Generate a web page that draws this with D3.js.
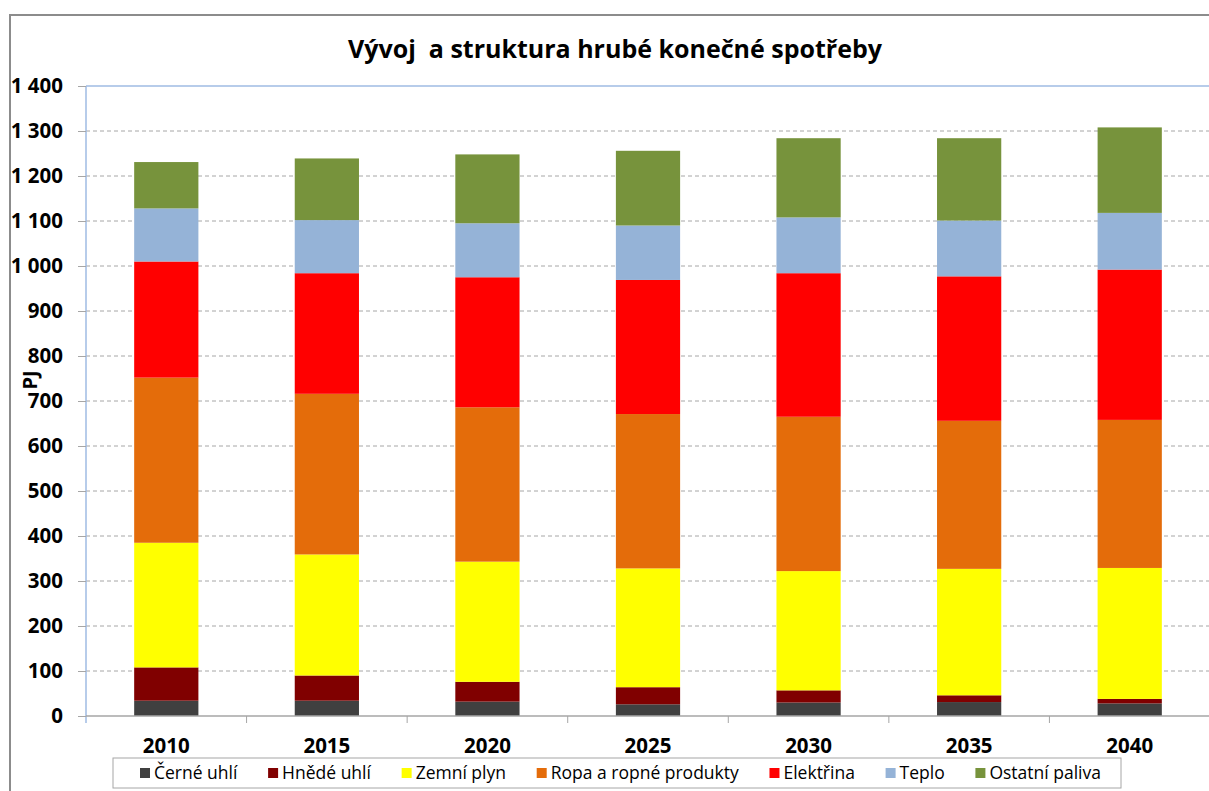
<!DOCTYPE html>
<html lang="cs">
<head>
<meta charset="UTF-8" />
<title>Vývoj a struktura hrubé konečné spotřeby</title>
<script src="https://d3js.org/d3.v7.min.js"></script>
<style>
	body { margin: 0; background: #fff; }
	svg { display: block; font-family: "Open Sans", "Noto Sans", sans-serif; }
	.title { white-space: pre; }
</style>
</head>
<body>
<svg id="chart"></svg>
<script>
const years = ["2010", "2015", "2020", "2025", "2030", "2035", "2040"];
const seriesNames = ["Černé uhlí", "Hnědé uhlí", "Zemní plyn", "Ropa a ropné produkty", "Elektřina", "Teplo", "Ostatní paliva"];
const seriesColors = ["#404040", "#800000", "#ffff00", "#e46c0a", "#ff0000", "#95b3d7", "#77933c"];

// PJ
const cerneUhli = [34, 34, 32, 26, 30, 31, 28];
const hnedeUhli = [74, 56, 44, 38, 27, 15, 10];
const zemniPlyn = [277, 269, 267, 264, 265, 281, 291];
const ropa = [367, 357, 343, 343, 343, 329, 329];
const elektrina = [258, 268, 289, 298, 319, 321, 334];
const teplo = [118, 118, 120, 121, 124, 124, 126];
const ostatni = [103, 137, 153, 166, 176, 183, 190];
const seriesValues = [cerneUhli, hnedeUhli, zemniPlyn, ropa, elektrina, teplo, ostatni];

const yTicks = d3.range(0, 1401, 100);

const W = 1209, H = 791;
const plot = { left: 86, top: 86, right: 1210, bottom: 716 };

const svg = d3.select("#chart").attr("width", W).attr("height", H);

// outer chart frame
svg.append("rect")
	.attr("x", 10).attr("y", 15)
	.attr("width", 1300).attr("height", 900)
	.attr("fill", "#fff")
	.attr("stroke", "#8c8c8c")
	.attr("stroke-width", 2);

svg.append("text")
	.attr("class", "title")
	.attr("x", 615).attr("y", 58)
	.attr("text-anchor", "middle")
	.attr("font-size", 25)
	.attr("font-weight", "bold")
	.attr("fill", "#000")
	.text("Vývoj  a struktura hrubé konečné spotřeby");

const x = d3.scaleBand()
	.domain(years)
	.range([plot.left, plot.right])
	.paddingInner(0.6)
	.paddingOuter(0.3);

const y = d3.scaleLinear().domain([0, 1400]).range([plot.bottom, plot.top]);

// gridlines
svg.append("g")
	.selectAll("line")
	.data(yTicks.filter(d => d > 0 && d < 1400))
	.join("line")
	.attr("x1", plot.left).attr("x2", plot.right)
	.attr("y1", d => y(d)).attr("y2", d => y(d))
	.attr("stroke", "#a6a6a6")
	.attr("stroke-dasharray", "4,3");

// top border of plot area
svg.append("line")
	.attr("x1", plot.left).attr("x2", plot.right)
	.attr("y1", plot.top).attr("y2", plot.top)
	.attr("stroke", "#9fbbe3").attr("stroke-width", 1.5);

// stacked bars
const rows = years.map((yr, i) => {
	const r = { year: yr };
	seriesNames.forEach((s, j) => { r[s] = seriesValues[j][i]; });
	return r;
});
const stacked = d3.stack().keys(seriesNames)(rows);

svg.append("g")
	.selectAll("g")
	.data(stacked)
	.join("g")
	.attr("fill", (d, i) => seriesColors[i])
	.selectAll("rect")
	.data(d => d)
	.join("rect")
	.attr("x", d => x(d.data.year))
	.attr("width", x.bandwidth())
	.attr("y", d => y(d[1]))
	.attr("height", d => y(d[0]) - y(d[1]));

// y axis
const fmt = d3.formatLocale({ decimal: ",", thousands: " ", grouping: [3], currency: ["", ""] }).format(",d");
const yAxis = svg.append("g")
	.attr("transform", `translate(${plot.left},0)`)
	.call(d3.axisLeft(y).tickValues(yTicks).tickFormat(fmt).tickSize(8).tickPadding(15));
yAxis.select(".domain").attr("stroke", "#9fbbe3").attr("stroke-width", 1.5)
	.attr("d", `M0,${plot.top}V${plot.bottom + 7}`);
yAxis.selectAll(".tick line").attr("stroke", "#a6a6a6");
yAxis.selectAll(".tick text")
	.attr("font-size", 20.5)
	.attr("font-weight", "bold")
	.attr("font-family", "'Open Sans', 'Noto Sans', sans-serif")
	.attr("fill", "#000");

// x axis
const step = x.step();
svg.append("line")
	.attr("x1", plot.left).attr("x2", plot.right)
	.attr("y1", plot.bottom).attr("y2", plot.bottom)
	.attr("stroke", "#a6a6a6").attr("stroke-width", 1.5);
svg.append("g")
	.selectAll("line")
	.data(years.slice(1))
	.join("line")
	.attr("x1", d => x(d) - step * 0.3).attr("x2", d => x(d) - step * 0.3)
	.attr("y1", plot.bottom).attr("y2", plot.bottom + 7)
	.attr("stroke", "#a6a6a6");

svg.append("g")
	.selectAll("text")
	.data(years)
	.join("text")
	.attr("x", d => x(d) + x.bandwidth() / 2)
	.attr("y", 753)
	.attr("text-anchor", "middle")
	.attr("font-size", 20.5)
	.attr("font-weight", "bold")
	.text(d => d);

svg.append("text")
	.attr("transform", "translate(37,380) rotate(-90)")
	.attr("text-anchor", "middle")
	.attr("font-size", 20)
	.attr("font-weight", "bold")
	.text("PJ");

// legend
const legend = svg.append("g");
legend.append("rect")
	.attr("x", 113).attr("y", 758)
	.attr("width", 1008).attr("height", 30)
	.attr("fill", "#fff")
	.attr("stroke", "#a6a6a6");

const items = seriesNames.map((name, i) => {
	const g = legend.append("g");
	g.append("rect")
		.attr("width", 10).attr("height", 10)
		.attr("y", 768)
		.attr("fill", seriesColors[i]);
	const t = g.append("text")
		.attr("y", 779)
		.attr("font-size", 17.5)
		.attr("fill", "#000")
		.text(name);
	return { g, w: 14 + t.node().getComputedTextLength() };
});
const legendStart = 140, legendEnd = 1101;
const gap = (legendEnd - legendStart - d3.sum(items, d => d.w)) / (items.length - 1);
let lx = legendStart;
items.forEach(it => {
	it.g.select("rect").attr("x", lx);
	it.g.select("text").attr("x", lx + 14);
	lx += it.w + gap;
});
</script>
</body>
</html>
